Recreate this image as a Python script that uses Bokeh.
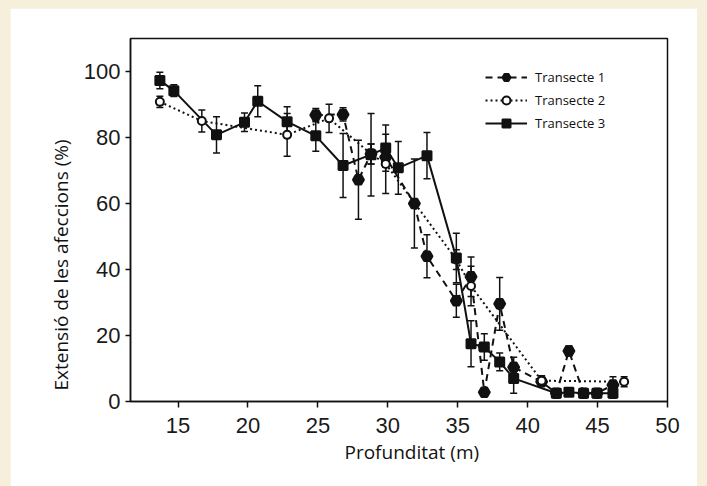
from bokeh.plotting import figure
from bokeh.models import (Range1d, FixedTicker, Whisker, TeeHead, ColumnDataSource,
                          Legend, LegendItem, Spacer, Title)
from bokeh.layouts import column, row
from bokeh.embed import file_html
from bokeh.resources import INLINE

# ---------------- data ----------------
series_names = ["Transecte 1", "Transecte 2", "Transecte 3"]

depth_t1 = [24.85, 26.8, 27.9, 28.8, 29.85, 31.9, 32.8, 34.9, 35.95, 36.9, 38.0, 39.0,
            41.0, 42.05, 42.95, 44.0, 44.95, 46.1]
ext_t1 = [86.8, 87.0, 67.2, 75.0, 74.0, 60.0, 44.0, 30.5, 37.8, 2.8, 29.6, 10.4,
          6.0, 2.5, 15.3, 2.5, 2.5, 5.0]
err_t1 = [2.0, 2.0, 12.0, 3.0, 3.0, 13.5, 6.5, 5.0, 6.0, 0.0, 8.0, 3.0,
          1.0, 0.8, 1.5, 0.8, 0.8, 2.5]

depth_t2 = [13.7, 16.7, 22.8, 25.8, 28.8, 29.85, 34.9, 35.95, 41.0, 46.9]
ext_t2 = [90.8, 85.0, 80.8, 85.8, 75.0, 72.0, 43.0, 35.0, 6.3, 6.0]
err_t2 = [1.7, 3.3, 6.5, 4.3, 3.0, 9.0, 3.0, 6.0, 1.5, 1.5]

depth_t3 = [13.7, 14.7, 17.75, 19.75, 20.7, 22.8, 24.85, 26.8, 28.8, 29.85, 30.75, 32.8,
            34.9, 35.95, 36.9, 38.0, 39.0, 42.05, 42.95, 44.0, 44.95, 46.1]
ext_t3 = [97.3, 94.2, 80.8, 84.6, 91.0, 84.8, 80.5, 71.5, 74.8, 76.8, 70.8, 74.5,
          43.5, 17.5, 16.5, 12.0, 7.0, 2.5, 2.8, 2.5, 2.5, 2.5]
err_t3 = [2.5, 1.8, 5.5, 2.8, 4.7, 4.5, 4.7, 9.7, 12.5, 7.0, 8.0, 7.0,
          7.5, 7.0, 4.0, 2.7, 4.5, 0.8, 0.8, 0.8, 0.8, 1.5]

x_ticks = [15, 20, 25, 30, 35, 40, 45, 50]
y_ticks = [0, 20, 40, 60, 80, 100]
x_title = "Profunditat (m)"
y_title = "Extensió de les afeccions (%)"

# ---------------- figure ----------------
INK = "#111111"
CREAM = "#f5efdc"
p = figure(width=687, height=478, x_range=Range1d(11.6, 50), y_range=Range1d(0, 110),
           output_backend="svg", toolbar_location=None,
           min_border_left=120, min_border_right=30, min_border_top=30, min_border_bottom=85)
p.border_fill_color = "white"
p.background_fill_color = "white"
p.grid.visible = False
p.outline_line_color = INK
p.outline_line_width = 1.5

for ax in (p.xaxis[0], p.yaxis[0]):
    ax.axis_line_color = INK
    ax.axis_line_width = 1.5
    ax.major_tick_line_color = INK
    ax.major_tick_line_width = 1.5
    ax.major_tick_in = 0
    ax.minor_tick_line_color = None
    ax.major_label_text_font = "Liberation Sans"
    ax.major_label_text_font_size = "22px"
    ax.major_label_text_color = "#1a1a1a"

p.xaxis.ticker = FixedTicker(ticks=x_ticks)
p.yaxis.ticker = FixedTicker(ticks=y_ticks)
p.xaxis.major_tick_out = 6
p.yaxis.major_tick_out = 5
p.xaxis.major_label_standoff = 10
p.yaxis.major_label_standoff = 5

# axis titles (slightly off-centre in the reference)
xt = Title(text=x_title, align="left", offset=214, standoff=2,
           text_font="Open Sans", text_font_size="19px", text_font_style="normal",
           text_color="#111111")
yt = Title(text=y_title, align="left", offset=11, standoff=13,
           text_font="Open Sans", text_font_size="19px", text_font_style="normal",
           text_color="#111111")
p.add_layout(xt, "below")
p.add_layout(yt, "left")

styles = [
    dict(dash="7 5", marker="hex", size=11, fill=INK),
    dict(dash="2 3", marker="circle", size=8, fill="white"),
    dict(dash="solid", marker="square", size=9, fill=INK),
]
data = [(depth_t1, ext_t1, err_t1), (depth_t2, ext_t2, err_t2), (depth_t3, ext_t3, err_t3)]

items = []
line_rs, marker_rs, sources = [], [], []
for (xs, ys, es), st in zip(data, styles):
    src = ColumnDataSource(dict(x=xs, y=ys,
                                upper=[y + e for y, e in zip(ys, es)],
                                lower=[y - e for y, e in zip(ys, es)]))
    sources.append(src)
    lr = p.line("x", "y", source=src, line_color=INK, line_width=2, line_dash=st["dash"])
    line_rs.append(lr)

for src in sources:
    w = Whisker(source=src, base="x", upper="upper", lower="lower",
                line_color=INK, line_width=1.5,
                upper_head=TeeHead(size=7, line_color=INK, line_width=1.5),
                lower_head=TeeHead(size=7, line_color=INK, line_width=1.5))
    p.add_layout(w)

for src, st in zip(sources, styles):
    mr = p.scatter("x", "y", source=src, marker=st["marker"], size=st["size"],
                   fill_color=st["fill"], line_color=INK, line_width=2)
    marker_rs.append(mr)

for name, lr, mr in zip(series_names, line_rs, marker_rs):
    items.append(LegendItem(label=name, renderers=[lr, mr]))

legend = Legend(items=items, location=(355, 268), glyph_width=42, glyph_height=20,
                label_height=20, spacing=3, padding=0, margin=0, label_standoff=8,
                background_fill_alpha=0, border_line_alpha=0,
                label_text_font="Open Sans", label_text_font_size="13px",
                label_text_color="#111111")
p.add_layout(legend)

root = column(Spacer(height=8), row(Spacer(width=10), p, Spacer(width=10)),
              styles={"background-color": CREAM})

open("out.html", "w").write(file_html(root, INLINE))
